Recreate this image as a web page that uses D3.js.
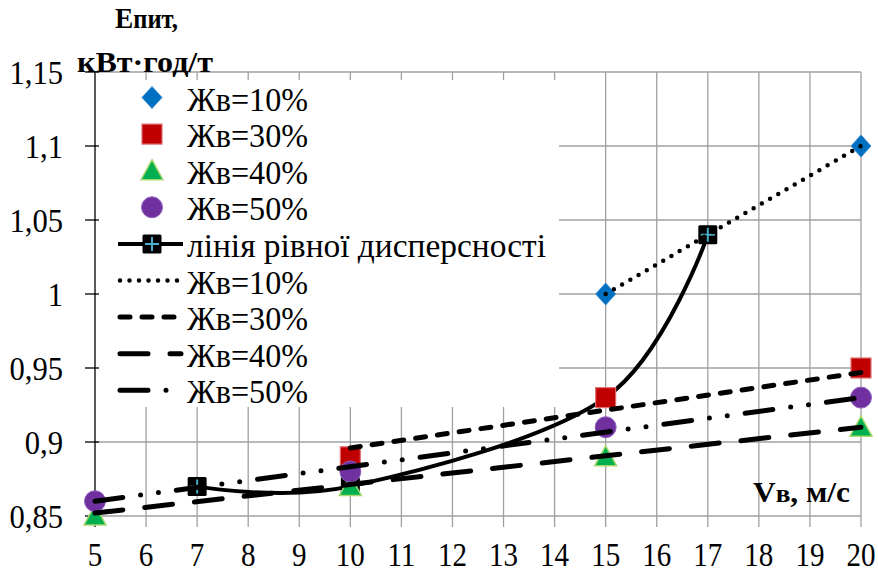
<!DOCTYPE html>
<html>
<head>
<meta charset="utf-8">
<script src="https://cdn.jsdelivr.net/npm/d3@7/dist/d3.min.js"></script>
<style>
  body { margin: 0; background: #fff; }
</style>
</head>
<body>
<div id="chart"></div>
<script>
// ---- data ----
const xTicks = [5, 6, 7, 8, 9, 10, 11, 12, 13, 14, 15, 16, 17, 18, 19, 20];
const yTicks = [0.85, 0.9, 0.95, 1, 1.05, 1.1, 1.15];
const yTickLabels = ["0,85", "0,9", "0,95", "1", "1,05", "1,1", "1,15"];

const v10 = [15, 20],          e10 = [1.0, 1.1];
const v30 = [10, 15, 20],      e30 = [0.89, 0.93, 0.95];
const v40 = [5, 10, 15, 20],   e40 = [0.85, 0.87, 0.89, 0.91];
const v50 = [5, 10, 15, 20],   e50 = [0.86, 0.88, 0.91, 0.93];
const vEq = [7, 10, 15, 17],   eEq = [0.87, 0.87, 0.93, 1.04];

// trend lines (end points)
const trendV10 = [15, 20], trendE10 = [1.0, 1.1];
const trendV30 = [10, 20], trendE30 = [0.896, 0.947];
const trendV40 = [5, 20],  trendE40 = [0.852, 0.91];
const trendV50 = [5, 20],  trendE50 = [0.86, 0.93];

const seriesNames = ["Жв=10%", "Жв=30%", "Жв=40%", "Жв=50%", "лінія рівної дисперсності"];
const trendNames = ["Жв=10%", "Жв=30%", "Жв=40%", "Жв=50%"];

const width = 878, height = 573;
const margin = { top: 72, right: 17, bottom: 57, left: 95 };

const svg = d3.select('#chart').append('svg')
  .attr('width', width).attr('height', height);

const x = d3.scaleLinear().domain([5, 20]).range([margin.left, width - margin.right]);
const y = d3.scaleLinear().domain([0.85, 1.15]).range([height - margin.bottom, margin.top]);

const zip = (a, b) => a.map((d, i) => [d, b[i]]);

// text helper: lettering in the picture is narrower than plain Times,
// so squeeze it with textLength (fixed factor or a target width)
function label(g, tx, ty, str, opts) {
  const o = Object.assign({ size: 34, sx: 0.92, anchor: 'start', bold: false }, opts || {});
  const t = g.append('text')
    .attr('x', tx).attr('y', ty)
    .attr('text-anchor', o.anchor)
    .attr('font-family', 'Liberation Serif')
    .attr('font-size', o.size);
  if (o.bold) t.attr('font-weight', 'bold');
  if (Array.isArray(str)) {
    str.forEach(p => t.append('tspan').attr('font-size', p[1]).text(p[0]));
  } else {
    t.text(str);
  }
  const len = t.node().getComputedTextLength();
  const target = o.fit ? o.fit : len * o.sx;
  t.attr('textLength', target).attr('lengthAdjust', 'spacingAndGlyphs');
  return t;
}

// grid
const grid = svg.append('g').attr('stroke', '#a0a0a0').attr('stroke-width', 1.3);
grid.selectAll('line.v').data(xTicks.slice(1)).enter().append('line')
  .attr('x1', d => x(d)).attr('x2', d => x(d))
  .attr('y1', y(1.15)).attr('y2', y(0.85) + 11);
grid.selectAll('line.h').data(yTicks.slice(1)).enter().append('line')
  .attr('x1', x(5)).attr('x2', x(20))
  .attr('y1', d => y(d)).attr('y2', d => y(d));
// x axis (gray)
grid.append('line').attr('x1', x(5)).attr('x2', x(20)).attr('y1', y(0.85)).attr('y2', y(0.85));

// legend background hides the grid behind it
svg.append('rect').attr('x', x(5) + 1).attr('y', 80).attr('width', 463).attr('height', 327).attr('fill', '#fff');

// y axis (black)
const yAxis = svg.append('g').attr('stroke', '#000').attr('stroke-width', 1.3);
yAxis.append('line').attr('x1', x(5)).attr('x2', x(5)).attr('y1', y(1.15)).attr('y2', y(0.85) + 11);
yAxis.selectAll('line.t').data(yTicks).enter().append('line')
  .attr('x1', x(5) - 10).attr('x2', x(5) + 4)
  .attr('y1', d => y(d)).attr('y2', d => y(d));

// tick labels
yTicks.forEach((d, i) => label(svg, 63, y(d) + 11.5, yTickLabels[i], { anchor: 'end', sx: 0.9 }));
xTicks.forEach(d => label(svg, x(d), 566, String(d), { anchor: 'middle', sx: 0.88, size: 33 }));

// axis titles
label(svg, 115, 28, [['Е', 30], ['пит,', 27]], { size: 30, bold: true, fit: 63 });
label(svg, 77, 72, 'кВт·год/т', { size: 30, bold: true, fit: 136 });
label(svg, 753, 502, [['V', 30], ['в', 26], [', м/с', 30]], { size: 30, bold: true, fit: 97 });

// ---- marks ----
const line = d3.line().x(d => x(d[0])).y(d => y(d[1]));
const smooth = d3.line().x(d => x(d[0])).y(d => y(d[1])).curve(d3.curveCardinal.tension(0));

// line of equal dispersion
svg.append('path').datum(zip(vEq, eEq))
  .attr('d', smooth)
  .attr('fill', 'none').attr('stroke', '#000').attr('stroke-width', 4);

function eqMarker(g, cx, cy) {
  g.append('rect').attr('x', cx - 9.5).attr('y', cy - 9.5).attr('width', 19).attr('height', 19)
    .attr('rx', 1.5).attr('fill', '#000');
  g.append('path').attr('d', `M${cx - 7},${cy}H${cx + 7}M${cx},${cy - 7}V${cy + 7}`)
    .attr('stroke', '#4bacc6').attr('stroke-width', 2);
}
const eqG = svg.append('g');
zip(vEq, eEq).forEach(d => eqMarker(eqG, x(d[0]), y(d[1])));

function diamond(g, cx, cy) {
  g.append('path').attr('d', `M${cx},${cy - 11}L${cx + 10},${cy}L${cx},${cy + 11}L${cx - 10},${cy}Z`)
    .attr('fill', '#0070c0').attr('stroke', '#3a8ad0').attr('stroke-width', 1);
}
function square(g, cx, cy) {
  g.append('rect').attr('x', cx - 10).attr('y', cy - 10).attr('width', 20).attr('height', 20)
    .attr('fill', '#c00000').attr('stroke', '#e07070').attr('stroke-width', 1.2);
}
function triangle(g, cx, cy) {
  g.append('path').attr('d', `M${cx},${cy - 11}L${cx + 11},${cy + 9}L${cx - 11},${cy + 9}Z`)
    .attr('fill', '#00b050').attr('stroke', '#a8d870').attr('stroke-width', 1.5);
}
function circle(g, cx, cy) {
  g.append('circle').attr('cx', cx).attr('cy', cy).attr('r', 10.5)
    .attr('fill', '#7030a0').attr('stroke', '#9060c0').attr('stroke-width', 1);
}

const mk = svg.append('g');
zip(v10, e10).forEach(d => diamond(mk, x(d[0]), y(d[1])));
zip(v30, e30).forEach(d => square(mk, x(d[0]), y(d[1])));
zip(v40, e40).forEach(d => triangle(mk, x(d[0]), y(d[1])));
zip(v50, e50).forEach(d => circle(mk, x(d[0]), y(d[1])));

// trend line styles
const trendStyles = [
  { w: 4.5, dash: '0,9.5' },
  { w: 5, dash: '10,12' },
  { w: 5, dash: '28,22' },
  { w: 5, dash: '28,18,0,18,0,18' }
];
const trends = [zip(trendV10, trendE10), zip(trendV30, trendE30), zip(trendV40, trendE40), zip(trendV50, trendE50)];
trends.forEach((t, i) => {
  svg.append('path').datum(t).attr('d', line)
    .attr('fill', 'none').attr('stroke', '#000')
    .attr('stroke-width', trendStyles[i].w)
    .attr('stroke-linecap', 'round')
    .attr('stroke-dasharray', trendStyles[i].dash);
});

// ---- legend ----
const lg = svg.append('g');
const ly = i => 97.5 + i * 36.6;
const markerFns = [diamond, square, triangle, circle];
markerFns.forEach((f, i) => {
  f(lg, 152, ly(i));
  label(lg, 187, ly(i) + 13, seriesNames[i], { fit: 121 });
});
lg.append('line').attr('x1', 118).attr('x2', 183).attr('y1', ly(4)).attr('y2', ly(4))
  .attr('stroke', '#000').attr('stroke-width', 4);
eqMarker(lg, 152, ly(4));
label(lg, 187, ly(4) + 13, seriesNames[4], { fit: 359 });
trendNames.forEach((n, i) => {
  const yy = ly(5 + i);
  lg.append('line').attr('x1', 120).attr('x2', 181).attr('y1', yy).attr('y2', yy)
    .attr('stroke', '#000').attr('stroke-width', trendStyles[i].w)
    .attr('stroke-linecap', 'round')
    .attr('stroke-dasharray', trendStyles[i].dash);
  label(lg, 187, yy + 13, n, { fit: 121 });
});
</script>
</body>
</html>
